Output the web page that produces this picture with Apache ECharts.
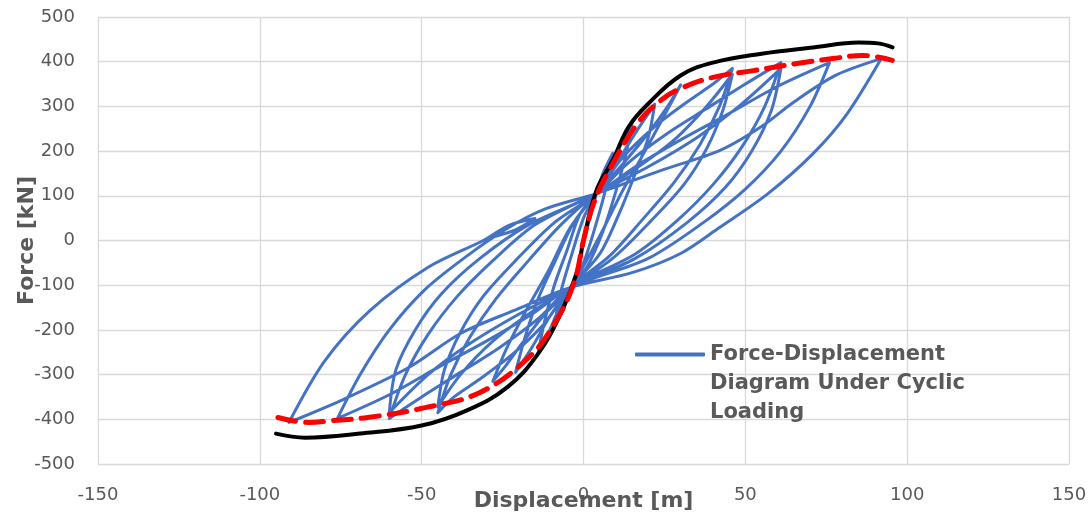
<!DOCTYPE html>
<html>
<head>
<meta charset="utf-8">
<script src="https://cdn.jsdelivr.net/npm/echarts/dist/echarts.min.js"></script>
<style>
  html, body { margin: 0; padding: 0; background: #ffffff; }
  #chart { width: 1092px; height: 519px; }
</style>
</head>
<body>
<div id="chart"></div>
<script>
// Axis ranges and tick steps
const xRange = [-150, 150, 50];
const yRange = [-500, 500, 100];

// Cyclic test record, one array of [displacement, force] per loading cycle
const cycle1 = [[0,0],[2,50],[4,105],[6,150],[9,195],
  [7,120],[4,40],[0,-50],[-4,-105],[-6,-150],[-9,-190],
  [-7,-115],[-4,-40],[0,50],[4,105]];
const cycle2 = [[8,165],[12,220],[15,262],
  [13,190],[10,110],[6,20],[1,-60],[-4,-105],
  [-8,-160],[-11,-210],[-14,-252],
  [-12,-180],[-9,-100],[-5,-20],[-1,60],[4,105]];
const cycle3 = [[10,170],[16,240],[22,305],
  [20,230],[16,150],[11,60],[5,-30],[-4,-105],
  [-10,-165],[-16,-240],[-21,-295],
  [-18,-215],[-14,-130],[-9,-50],[-3,40],[4,105]];
const cycle4 = [[12,170],[20,240],[26,300],[30,348],
  [25,280],[19,200],[12,110],[5,10],[-4,-105],
  [-12,-165],[-19,-230],[-24,-280],[-28,-315],
  [-24,-245],[-18,-160],[-11,-70],[-4,30],[4,105]];
const cycle5 = [[12,185],[22,255],[32,310],[40,350],[46,385],
  [42,300],[36,215],[28,130],[18,45],[8,-35],[-4,-105],
  [-12,-185],[-22,-255],[-32,-310],[-40,-350],[-45,-385],
  [-41,-300],[-35,-215],[-27,-130],[-17,-45],[-7,35],[4,105]];
const cycle5b = [[16,160],[28,225],[38,300],[46,372],
  [43,290],[38,205],[31,125],[21,45],[9,-40],[-4,-105],
  [-16,-160],[-28,-225],[-38,-300],[-45,-372],
  [-43,-290],[-38,-205],[-31,-125],[-21,-45],[-9,40],[4,105]];
const cycle6 = [[14,175],[26,240],[38,295],[50,350],[61,398],
  [56,300],[49,210],[40,125],[29,45],[16,-30],[-4,-105],
  [-14,-175],[-26,-240],[-38,-295],[-50,-350],[-60,-398],
  [-55,-300],[-48,-210],[-39,-125],[-28,-45],[-15,35],[4,105]];
const cycle6b = [[20,165],[35,230],[48,300],[61,385],
  [58,290],[52,200],[44,120],[32,40],[16,-40],[-4,-105],
  [-20,-165],[-35,-230],[-48,-300],[-60,-385],
  [-58,-290],[-52,-200],[-44,-120],[-32,-40],[-17,35],[4,105]];
const cycle7 = [[16,165],[30,225],[44,280],[60,345],[76,398],
  [70,300],[61,200],[50,115],[37,40],[20,-40],[-4,-105],
  [-16,-165],[-30,-225],[-44,-280],[-60,-345],[-76,-398],
  [-69,-300],[-60,-200],[-49,-110],[-37,-40],[-24,25],[-12,70],[4,105]];
const cycle8 = [[24,157],[42,201],[55,255],[65,310],[78,370],[92,407],
  [81.5,284],[71,195],[57,105],[42,29],[30,-29],[15,-72],[-4,-105],
  [-21.6,-157],[-38,-208],[-54,-284],[-75,-358],[-91,-407],
  [-80,-270],[-66,-157],[-48,-60],[-31,0],[-23,34],[-15,49],[-21,24],[-30,4]];

// Backbone (monotonic) curve
const backboneDisp  = [-95,-86,-69,-50,-36,-23.5,-14,-7,-2,0,4,9,14,20,30,40,55,71,85,91,95.5];
const backboneForce = [-432,-441,-432,-414,-380,-328,-253,-163,-70,0,112,179,255,306,369,398,418,432,443,441,432];

// Envelope through the cycle peaks
const envelopeDisp  = [-94.4,-85,-78,-66.7,-49,-32,-17,-9,-3,0,3,7.4,16.7,23.8,30,40,52.5,66,77,86.4,95.4];
const envelopeForce = [-396,-407,-403,-396,-374,-340,-262,-186,-96,0,80,150,262,313,340,365,380,396,407,414,403];

const cyclicName = 'Force-Displacement Diagram Under Cyclic Loading';

const cyclicPath = [].concat(cycle1, cycle2, cycle3, cycle4, cycle5, cycle5b,
  cycle6, cycle6b, cycle7, cycle8);
const pairUp = (xs, ys) => xs.map((x, i) => [x, ys[i]]);

const gray = '#595959';
const chart = echarts.init(document.getElementById('chart'));
chart.setOption({
  animation: false,
  backgroundColor: '#ffffff',
  grid: { left: 98, right: 23, top: 17, bottom: 55, containLabel: false, outerBoundsMode: 'none' },
  legend: {
    data: [cyclicName],
    left: 635,
    top: 282,
    padding: 0,
    icon: 'roundRect',
    itemWidth: 70,
    itemHeight: 4,
    // two leading blank lines keep the first text line level with the key
    formatter: () => '\n\nForce-Displacement\nDiagram Under Cyclic\nLoading',
    textStyle: {
      color: gray, fontSize: 21, fontWeight: 'bold', fontFamily: 'DejaVu Sans',
      lineHeight: 29
    }
  },
  xAxis: {
    type: 'value', min: xRange[0], max: xRange[1], interval: xRange[2],
    axisLine: { show: false }, axisTick: { show: false },
    splitLine: { lineStyle: { color: '#d9d9d9', width: 1.3 } },
    axisLabel: { color: gray, fontSize: 18, fontFamily: 'DejaVu Sans', margin: 22 },
    name: 'Displacement [m]', nameLocation: 'middle', nameGap: 26, nameMoveOverlap: false,
    nameTextStyle: { color: gray, fontSize: 22, fontWeight: 'bold', fontFamily: 'DejaVu Sans' }
  },
  yAxis: {
    type: 'value', min: yRange[0], max: yRange[1], interval: yRange[2],
    axisLine: { show: false }, axisTick: { show: false },
    splitLine: { lineStyle: { color: '#d9d9d9', width: 1.3 } },
    axisLabel: { color: gray, fontSize: 18, fontFamily: 'DejaVu Sans', margin: 23 },
    name: 'Force [kN]', nameLocation: 'middle', nameGap: 60, nameRotate: 90, nameMoveOverlap: false,
    nameTextStyle: { color: gray, fontSize: 22, fontWeight: 'bold', fontFamily: 'DejaVu Sans' }
  },
  series: [
    {
      name: cyclicName, type: 'line', data: cyclicPath, smooth: 0.3,
      symbol: 'none', z: 2,
      lineStyle: { color: '#4472C4', width: 3, join: 'round', cap: 'round' },
      itemStyle: { color: '#4472C4' }
    },
    {
      name: 'Backbone', type: 'line', data: pairUp(backboneDisp, backboneForce), smooth: 0.4,
      symbol: 'none', z: 3,
      lineStyle: { color: '#000000', width: 4, cap: 'round' }
    },
    {
      name: 'Envelope', type: 'line', data: pairUp(envelopeDisp, envelopeForce), smooth: 0.4,
      symbol: 'none', z: 4,
      lineStyle: { color: '#ff0000', width: 5, type: [18, 10], cap: 'round' }
    }
  ]
});
</script>
</body>
</html>
